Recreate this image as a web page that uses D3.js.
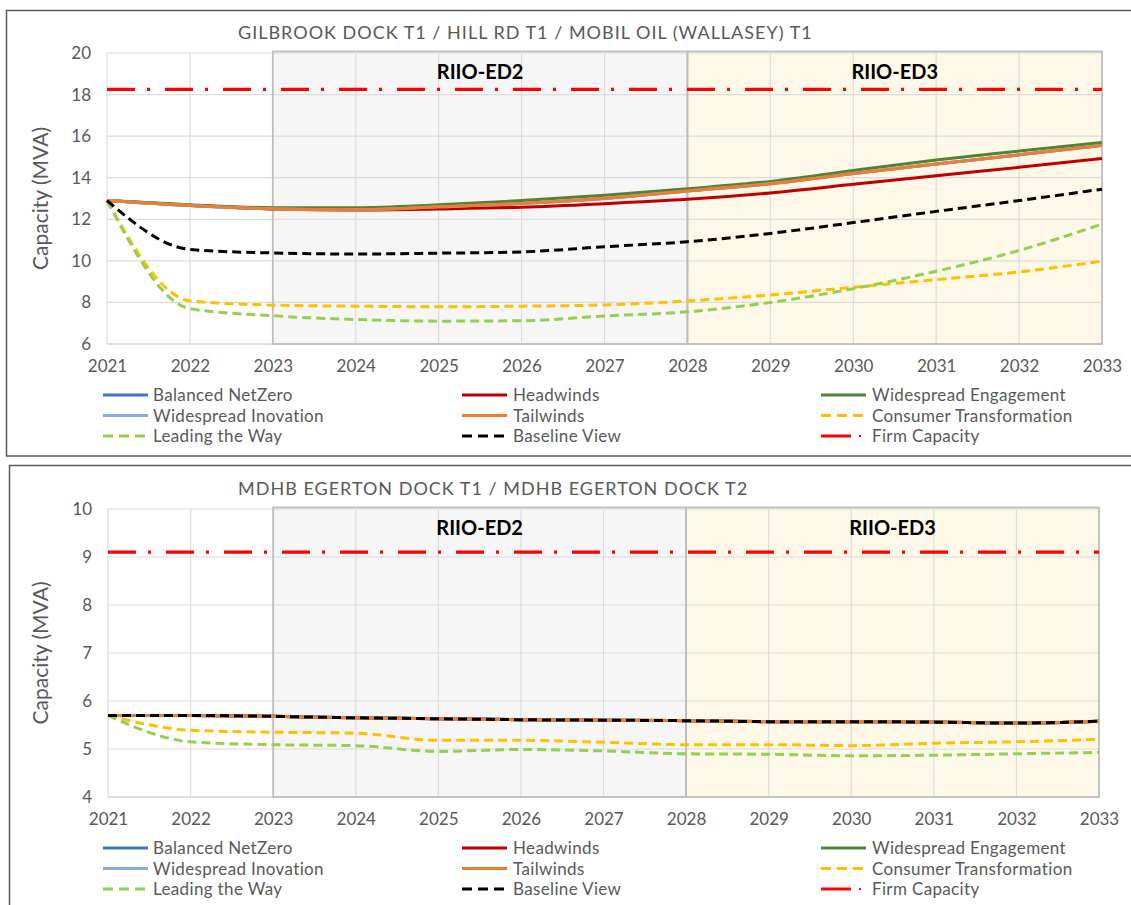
<!DOCTYPE html>
<html>
<head>
<meta charset="utf-8">
<script src="https://cdn.jsdelivr.net/npm/d3@7"></script>
<style>
  html, body { margin: 0; padding: 0; background: #ffffff; }
  svg { display: block; }
  text { font-family: Lato, "Open Sans", sans-serif; }
</style>
</head>
<body>
<svg id="chart" width="1131" height="905"></svg>
<script>
// ---------------- DATA ----------------
const years = [2021, 2022, 2023, 2024, 2025, 2026, 2027, 2028, 2029, 2030, 2031, 2032, 2033];

const legendNames = ["Balanced NetZero", "Headwinds", "Widespread Engagement",
                     "Widespread Inovation", "Tailwinds", "Consumer Transformation",
                     "Leading the Way", "Baseline View", "Firm Capacity"];

// Panel 1: GILBROOK DOCK T1 / HILL RD T1 / MOBIL OIL (WALLASEY) T1
const title1 = "GILBROOK DOCK T1 / HILL RD T1 / MOBIL OIL (WALLASEY) T1";
const yTicks1 = [6, 8, 10, 12, 14, 16, 18, 20];
const balanced1    = [12.9, 12.66, 12.5, 12.46, 12.6, 12.76, 13.0, 13.36, 13.72, 14.2, 14.66, 15.1, 15.56];
const headwinds1   = [12.9, 12.68, 12.5, 12.45, 12.5, 12.58, 12.75, 12.96, 13.27, 13.68, 14.1, 14.5, 14.92];
const engagement1  = [12.9, 12.7, 12.56, 12.56, 12.7, 12.9, 13.16, 13.47, 13.82, 14.35, 14.85, 15.28, 15.7];
const innovation1  = [12.9, 12.66, 12.5, 12.46, 12.6, 12.76, 13.0, 13.36, 13.72, 14.2, 14.66, 15.1, 15.56];
const tailwinds1   = [12.9, 12.66, 12.5, 12.46, 12.6, 12.76, 13.0, 13.36, 13.7, 14.2, 14.66, 15.1, 15.55];
const consumer1    = [12.9, 8.08, 7.87, 7.82, 7.79, 7.82, 7.88, 8.07, 8.36, 8.73, 9.1, 9.47, 9.98];
const leading1     = [12.9, 7.7, 7.36, 7.18, 7.1, 7.12, 7.35, 7.55, 8.0, 8.66, 9.5, 10.5, 11.77];
const baseline1    = [12.9, 10.55, 10.38, 10.33, 10.37, 10.43, 10.68, 10.92, 11.32, 11.84, 12.38, 12.9, 13.45];
const firm1        = 18.25;

// Panel 2: MDHB EGERTON DOCK T1 / MDHB EGERTON DOCK T2
const title2 = "MDHB EGERTON DOCK T1 / MDHB EGERTON DOCK T2";
const yTicks2 = [4, 5, 6, 7, 8, 9, 10];
const balanced2    = [5.7, 5.7, 5.68, 5.65, 5.63, 5.61, 5.6, 5.59, 5.57, 5.57, 5.56, 5.54, 5.58];
const headwinds2   = [5.7, 5.7, 5.68, 5.65, 5.63, 5.61, 5.6, 5.59, 5.57, 5.57, 5.56, 5.54, 5.58];
const engagement2  = [5.7, 5.7, 5.68, 5.65, 5.63, 5.61, 5.6, 5.59, 5.57, 5.57, 5.56, 5.54, 5.58];
const innovation2  = [5.7, 5.7, 5.68, 5.65, 5.63, 5.61, 5.6, 5.59, 5.57, 5.57, 5.56, 5.54, 5.58];
const tailwinds2   = [5.7, 5.7, 5.68, 5.65, 5.63, 5.61, 5.6, 5.59, 5.57, 5.57, 5.56, 5.54, 5.58];
const consumer2    = [5.7, 5.39, 5.35, 5.33, 5.18, 5.18, 5.14, 5.09, 5.09, 5.07, 5.12, 5.15, 5.2];
const leading2     = [5.7, 5.15, 5.09, 5.07, 4.95, 4.99, 4.96, 4.9, 4.89, 4.86, 4.87, 4.9, 4.93];
const baseline2    = [5.7, 5.7, 5.68, 5.65, 5.63, 5.61, 5.6, 5.59, 5.57, 5.57, 5.56, 5.54, 5.58];
const firm2        = 9.1;

// Period shading
const periods = [
  { label: "RIIO-ED2", from: 2023, to: 2028, kind: "ed2" },
  { label: "RIIO-ED3", from: 2028, to: 2033, kind: "ed3" }
];

// ---------------- STYLES ----------------
const seriesStyle = {
  "Balanced NetZero":        { color: "#4472c4", dash: null },
  "Headwinds":               { color: "#c00000", dash: null },
  "Widespread Engagement":   { color: "#548235", dash: null },
  "Widespread Inovation":    { color: "#8faadc", dash: null },
  "Tailwinds":               { color: "#ed7d31", dash: null },
  "Consumer Transformation": { color: "#ffc000", dash: "9,5" },
  "Leading the Way":         { color: "#92d050", dash: "9,5" },
  "Baseline View":           { color: "#000000", dash: "9,5" },
  "Firm Capacity":           { color: "#ff0000", dash: "28,12,3,15" }
};

const svg = d3.select("#chart");

function drawPanel(p) {
  const g = svg.append("g");
  // frame
  g.append("rect")
    .attr("x", p.frame.x).attr("y", p.frame.y)
    .attr("width", p.frame.w).attr("height", p.frame.h)
    .attr("fill", "#ffffff").attr("stroke", "#595959").attr("stroke-width", 1.5);

  const x = d3.scaleLinear().domain([years[0], years[years.length - 1]]).range([p.left, p.right]);
  const y = d3.scaleLinear().domain([p.yTicks[0], p.yTicks[p.yTicks.length - 1]]).range([p.bottom, p.top]);

  // period boxes
  periods.forEach(per => {
    g.append("rect")
      .attr("x", x(per.from)).attr("y", p.top - 1.5)
      .attr("width", x(per.to) - x(per.from)).attr("height", p.bottom - p.top + 1.5)
      .attr("fill", per.kind === "ed2" ? "#f6f6f6" : "#fef8e9");
  });

  // gridlines
  g.append("g").selectAll("line.h").data(p.yTicks).join("line")
    .attr("x1", p.left).attr("x2", p.right)
    .attr("y1", d => y(d)).attr("y2", d => y(d))
    .attr("stroke", d => d === p.yTicks[0] ? "#bfbfbf" : "#dcdcdc").attr("stroke-width", 1.2);
  g.append("g").selectAll("line.v").data(years).join("line")
    .attr("x1", d => x(d)).attr("x2", d => x(d))
    .attr("y1", p.top).attr("y2", p.bottom)
    .attr("stroke", "#dcdcdc").attr("stroke-width", 1.2);

  // period box outlines
  periods.forEach(per => {
    g.append("rect")
      .attr("x", x(per.from)).attr("y", p.top - 1.5)
      .attr("width", x(per.to) - x(per.from)).attr("height", p.bottom - p.top + 1.5)
      .attr("fill", "none").attr("stroke", "#bfbfbf").attr("stroke-width", 1.8);
    g.append("text")
      .attr("x", (x(per.from) + x(per.to)) / 2).attr("y", p.top + 26)
      .attr("text-anchor", "middle")
      .attr("font-size", 20).attr("font-weight", "bold").attr("fill", "#000000")
      .text(per.label);
  });

  // axes (tick labels via d3 axes, no domain/ticks)
  const yAxis = d3.axisLeft(y).tickValues(p.yTicks).tickSize(0).tickPadding(0).tickFormat(d3.format("d"));
  const ya = g.append("g").attr("transform", `translate(${p.left - 16},0)`).call(yAxis);
  ya.select(".domain").remove();
  ya.selectAll("text").attr("font-size", 17).attr("fill", "#595959").attr("font-family", "Lato, sans-serif");

  const xAxis = d3.axisBottom(x).tickValues(years).tickSize(0).tickPadding(0).tickFormat(d3.format("d"));
  const xa = g.append("g").attr("transform", `translate(0,${p.bottom + 16})`).call(xAxis);
  xa.select(".domain").remove();
  xa.selectAll("text").attr("font-size", 17).attr("fill", "#595959").attr("font-family", "Lato, sans-serif");

  // title
  g.append("text")
    .attr("x", 238).attr("y", p.top - 14)
    .attr("font-size", 18).attr("fill", "#595959")
    .attr("letter-spacing", 1.0)
    .text(p.title);

  // y axis title
  g.append("text")
    .attr("transform", `translate(48,${(p.top + p.bottom) / 2}) rotate(-90)`)
    .attr("text-anchor", "middle")
    .attr("font-size", 21).attr("fill", "#595959")
    .text("Capacity (MVA)");

  // series lines
  const line = d3.line()
    .x((d, i) => x(years[i]))
    .y(d => y(d))
    .curve(d3.curveMonotoneX);

  p.series.forEach(s => {
    const st = seriesStyle[s.name];
    g.append("path")
      .datum(s.values)
      .attr("d", line)
      .attr("fill", "none")
      .attr("stroke", st.color)
      .attr("stroke-width", 3)
      .attr("stroke-dasharray", st.dash)
      .attr("stroke-linecap", "butt");
  });

  // firm capacity
  g.append("line")
    .attr("x1", p.left).attr("x2", p.right)
    .attr("y1", y(p.firm)).attr("y2", y(p.firm))
    .attr("stroke", seriesStyle["Firm Capacity"].color)
    .attr("stroke-width", 3.2)
    .attr("stroke-dasharray", seriesStyle["Firm Capacity"].dash);

  // legend
  const colX = [103, 462, 821];
  const textX = [153, 513, 872];
  legendNames.forEach((name, i) => {
    const col = i % 3, row = Math.floor(i / 3);
    const ly = p.legendY + row * 20.5;
    const st = seriesStyle[name];
    if (name === "Firm Capacity") {
      g.append("line").attr("x1", colX[col]).attr("x2", colX[col] + 30)
        .attr("y1", ly).attr("y2", ly).attr("stroke", st.color).attr("stroke-width", 3);
      g.append("line").attr("x1", colX[col] + 38).attr("x2", colX[col] + 40)
        .attr("y1", ly).attr("y2", ly).attr("stroke", st.color).attr("stroke-width", 2);
    } else {
      g.append("line").attr("x1", colX[col]).attr("x2", colX[col] + 45)
        .attr("y1", ly).attr("y2", ly)
        .attr("stroke", st.color).attr("stroke-width", 3)
        .attr("stroke-dasharray", st.dash ? "10,6" : null);
    }
    g.append("text").attr("x", textX[col]).attr("y", ly + 6)
      .attr("font-size", 17).attr("fill", "#595959")
      .attr("letter-spacing", 0.35)
      .text(name);
  });
}

drawPanel({
  frame: { x: 6.5, y: 10.5, w: 1140, h: 445.5 },
  left: 107, right: 1102, top: 53, bottom: 344,
  yTicks: yTicks1, title: title1, firm: firm1, legendY: 395,
  series: [
    { name: "Balanced NetZero", values: balanced1 },
    { name: "Headwinds", values: headwinds1 },
    { name: "Widespread Engagement", values: engagement1 },
    { name: "Widespread Inovation", values: innovation1 },
    { name: "Tailwinds", values: tailwinds1 },
    { name: "Consumer Transformation", values: consumer1 },
    { name: "Leading the Way", values: leading1 },
    { name: "Baseline View", values: baseline1 }
  ]
});

drawPanel({
  frame: { x: 9.5, y: 465.5, w: 1140, h: 460 },
  left: 108, right: 1099, top: 509, bottom: 797,
  yTicks: yTicks2, title: title2, firm: firm2, legendY: 848,
  series: [
    { name: "Balanced NetZero", values: balanced2 },
    { name: "Headwinds", values: headwinds2 },
    { name: "Widespread Engagement", values: engagement2 },
    { name: "Widespread Inovation", values: innovation2 },
    { name: "Tailwinds", values: tailwinds2 },
    { name: "Consumer Transformation", values: consumer2 },
    { name: "Leading the Way", values: leading2 },
    { name: "Baseline View", values: baseline2 }
  ]
});
</script>
</body>
</html>
